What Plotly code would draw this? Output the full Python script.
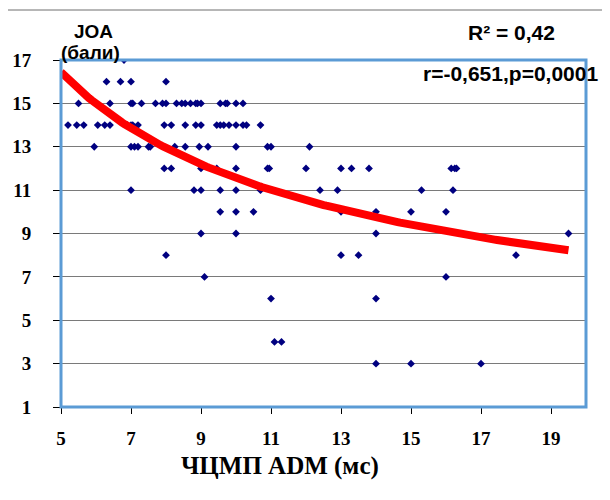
import numpy as np
import plotly.graph_objects as go

# ---- data ----
y_levels = [17, 16, 15, 14, 13, 12, 11, 10, 9, 8, 7, 6, 4, 3]
x_by_level = [
    [6.8],
    [6.3, 6.7, 7.0, 8.0],
    [5.5, 6.4, 7.0, 7.05, 7.3, 7.7, 7.9, 8.0, 8.3, 8.45, 8.55, 8.7, 8.85, 8.9, 9.0,
     9.55, 9.7, 9.75, 10.0, 10.2],
    [5.2, 5.45, 5.65, 6.05, 6.25, 6.4, 6.9, 7.0, 7.05, 7.2, 7.95, 8.15, 8.55, 8.85,
     9.0, 9.45, 9.55, 9.65, 9.8, 10.0, 10.2, 10.3, 10.7],
    [5.95, 7.0, 7.1, 7.2, 7.5, 7.55, 8.25, 8.55, 8.95, 9.2, 10.0, 10.9, 11.0, 12.1],
    [7.95, 8.15, 9.0, 9.45, 10.0, 10.9, 10.95, 12.0, 13.0, 13.3, 13.8, 16.15, 16.25, 16.3],
    [7.0, 8.8, 9.0, 9.55, 10.0, 10.7, 12.4, 12.9, 15.3, 16.2],
    [9.55, 10.0, 10.5, 13.0, 14.0, 15.0, 16.0],
    [9.0, 10.0, 14.0, 19.5],
    [8.0, 13.0, 13.5, 18.0],
    [9.1, 16.0],
    [11.0, 14.0],
    [11.1, 11.3],
    [14.0, 15.0, 17.0],
]
x_pts = [x for xs in x_by_level for x in xs]
y_pts = [y for y, xs in zip(y_levels, x_by_level) for _ in xs]

# power trendline y = a * x^b (fit shown on the chart)
fit_a = 37.3
fit_b = -0.509
fit_x_start, fit_x_end = 5.0, 19.5

x_ticks = [5, 7, 9, 11, 13, 15, 17, 19]
y_ticks = [1, 3, 5, 7, 9, 11, 13, 15, 17]

y_title_lines = ["JOA", "(бали)"]
x_title = "ЧЦМП ADM (мс)"
r2_text = "R² = 0,42"
r_text = "r=-0,651,p=0,0001"

# ---- layout geometry (page pixels; the page body adds an 8px offset) ----
OFF = 8
W, H = 610, 500
PL, PR, PT, PB = 61, 586, 60, 407          # plot area in page pixels
ML, MT = PL - OFF, PT - OFF
MR = W - (PR - OFF)
MB = H - (PB - OFF)
PW, PH = PR - PL, PB - PT


def px(xp):
    return (xp - PL) / PW


def py(yp):
    return (PB - yp) / PH


fx = np.linspace(fit_x_start, fit_x_end, 200)
fy = fit_a * fx ** fit_b

fig = go.Figure()
fig.add_trace(go.Scatter(
    x=x_pts, y=y_pts, mode="markers",
    marker=dict(symbol="diamond", size=6, color="#000080"),
    showlegend=False, hoverinfo="x+y"))
fig.add_trace(go.Scatter(
    x=fx, y=fy, mode="lines",
    line=dict(color="#FF0000", width=8),
    showlegend=False, hoverinfo="skip"))

serif = "Liberation Serif, Times New Roman, serif"
sans = "Liberation Sans, Arial, sans-serif"
tickfont = dict(family=serif, size=19, color="black")

fig.update_layout(
    width=W, height=H, autosize=False,
    margin=dict(l=ML, r=MR, t=MT, b=MB, autoexpand=False),
    paper_bgcolor="white", plot_bgcolor="white",
    xaxis=dict(range=[5, 20], tickvals=x_ticks, automargin=False,
               ticktext=[f"<b>{v}</b>" for v in x_ticks],
               showgrid=False, zeroline=False,
               ticks="outside", ticklen=6, tickcolor="black", tickwidth=1,
               tickfont=tickfont, ticklabelstandoff=8, showline=False),
    yaxis=dict(range=[1, 17], tickvals=y_ticks, automargin=False,
               ticktext=[f"<b>{v}</b>" for v in y_ticks],
               showgrid=True, gridcolor="#7a7a7a",
               gridwidth=1, zeroline=False,
               ticks="outside", ticklen=7, tickcolor="black", tickwidth=1,
               tickfont=tickfont, ticklabelstandoff=18, showline=False),
    shapes=[
        # plot-area frame
        dict(type="rect", xref="paper", yref="paper", x0=0, x1=1, y0=0, y1=1,
             line=dict(color="#5B9BD5", width=3), layer="above"),
        # outer chart border (left & top, extending past the picture)
        dict(type="line", xref="paper", yref="paper", x0=px(7), x1=px(7),
             y0=py(10), y1=py(H + 20), line=dict(color="#6e6e6e", width=1)),
        dict(type="line", xref="paper", yref="paper", x0=px(7), x1=px(W + 20),
             y0=py(10), y1=py(10), line=dict(color="#6e6e6e", width=1)),
    ],
    annotations=[
        dict(text=f"<b>{y_title_lines[0]}</b>", xref="paper", yref="paper",
             x=px(93), y=py(32), showarrow=False, xanchor="center", yanchor="middle",
             font=dict(family=sans, size=19, color="black")),
        dict(text=f"<b>{y_title_lines[1]}</b>", xref="paper", yref="paper",
             x=px(90), y=py(52), showarrow=False, xanchor="center", yanchor="middle",
             font=dict(family=sans, size=19, color="black")),
        dict(text=f"<b>{r2_text}</b>", xref="paper", yref="paper",
             x=px(511), y=py(33), showarrow=False, xanchor="center", yanchor="middle",
             font=dict(family=sans, size=21, color="black")),
        dict(text=f"<b>{r_text}</b>", xref="paper", yref="paper",
             x=px(510), y=py(73), showarrow=False, xanchor="center", yanchor="middle",
             font=dict(family=sans, size=21, color="black")),
        dict(text=f"<b>{x_title}</b>", xref="paper", yref="paper",
             x=px(280), y=py(466), showarrow=False, xanchor="center", yanchor="middle",
             font=dict(family=serif, size=25, color="black")),
    ],
)

fig.write_html("out.html")
